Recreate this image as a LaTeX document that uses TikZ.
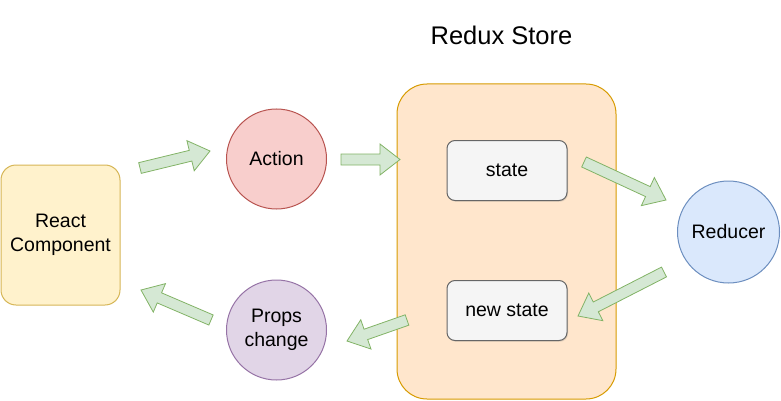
\documentclass[tikz,border=0pt]{standalone}
\usepackage{fontspec}
\setmainfont{Liberation Sans}
\usetikzlibrary{calc,shadows}
\definecolor{compfill}{HTML}{FFF2CC}
\definecolor{compline}{HTML}{D6B656}
\definecolor{actfill}{HTML}{F8CECC}
\definecolor{actline}{HTML}{B85450}
\definecolor{propfill}{HTML}{E1D5E7}
\definecolor{propline}{HTML}{9673A6}
\definecolor{storefill}{HTML}{FFE6CC}
\definecolor{storeline}{HTML}{D79B00}
\definecolor{statefill}{HTML}{F5F5F5}
\definecolor{stateline}{HTML}{666666}
\definecolor{redfill}{HTML}{DAE8FC}
\definecolor{redline}{HTML}{6C8EBF}
\definecolor{flowfill}{HTML}{D5E8D4}
\definecolor{flowline}{HTML}{82B366}
% flat block arrow from #1 to #2
\newcommand{\flatarrow}[2]{%
  \coordinate (hd) at ($(#2)!20pt!(#1)$);
  \draw[flow] ($(#1)!5.5pt!90:(#2)$) -- ($(hd)!5.5pt!90:(#2)$) -- ($(hd)!15.5pt!90:(#2)$)
    -- (#2) -- ($(hd)!15.5pt!-90:(#2)$) -- ($(hd)!5.5pt!-90:(#2)$) -- ($(#1)!5.5pt!-90:(#2)$) -- cycle;}
\begin{document}
\begin{tikzpicture}[x=1pt,y=-1pt,
    every node/.style={font=\fontsize{19.5}{23.5}\selectfont, align=center, line width=1pt},
    comp/.style={draw=compline, fill=compfill, rounded corners=15pt, minimum width=119pt, minimum height=140pt},
    ball/.style={circle, minimum size=100pt, inner sep=0pt},
    store/.style={draw=storeline, fill=storefill, rounded corners=30pt, minimum width=219pt, minimum height=315pt},
    statebox/.style={draw=stateline, fill=statefill, rounded corners=8pt, minimum width=120pt, minimum height=60pt,
      drop shadow={shadow xshift=1pt, shadow yshift=-1.2pt, opacity=0.25}},
    flow/.style={draw=flowline, fill=flowfill, line width=0.8pt, line join=miter}]
  \useasboundingbox (0,0) rectangle (781,401);
  \node[comp] (react) at (60.5,235) {React\\Component};
  \node[ball, draw=actline, fill=actfill] (action) at (276.5,159) {Action};
  \node[ball, draw=propline, fill=propfill] (props) at (276.5,330) {Props\\change};
  \node[store] (redux) at (506.5,241.5) {};
  \node[font=\fontsize{25.5}{30}\selectfont, anchor=base] (title) at (501.5,45) {Redux Store};
  \node[statebox] (state) at (507,170.5) {state};
  \node[statebox] (newstate) at (507,310.5) {new state};
  \node[ball, minimum size=102pt, draw=redline, fill=redfill] (reducer) at (728.5,232) {Reducer};
  \coordinate (a1) at (140,168); \coordinate (b1) at (210,151);
  \coordinate (a2) at (341,159.5); \coordinate (b2) at (400,159.5);
  \coordinate (a3) at (584,162); \coordinate (b3) at (666,200);
  \coordinate (a4) at (664,272); \coordinate (b4) at (578,316);
  \coordinate (a5) at (407,320); \coordinate (b5) at (347,341);
  \coordinate (a6) at (211,320); \coordinate (b6) at (141,290);
  \flatarrow{a1}{b1}
  \flatarrow{a2}{b2}
  \flatarrow{a3}{b3}
  \flatarrow{a4}{b4}
  \flatarrow{a5}{b5}
  \flatarrow{a6}{b6}
\end{tikzpicture}
\end{document}
